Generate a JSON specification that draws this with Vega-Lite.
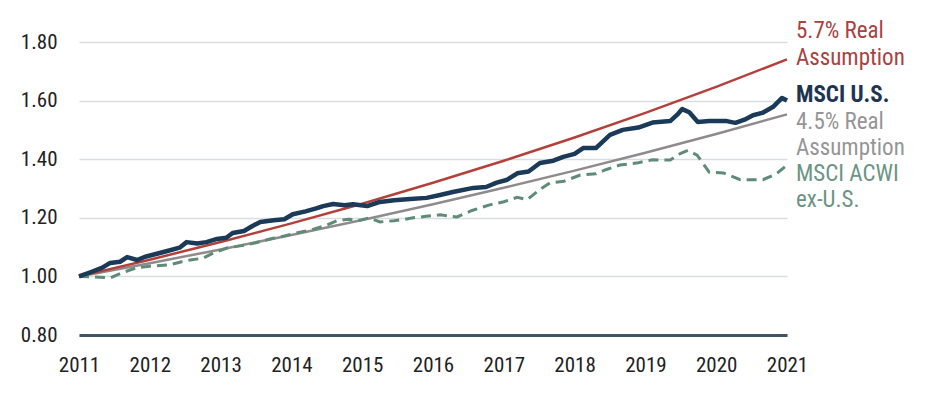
{
  "$schema": "https://vega.github.io/schema/vega-lite/v6.json",
  "width": 708,
  "height": 293,
  "autosize": "none",
  "padding": {"left": 79, "top": 42, "right": 139, "bottom": 63},
  "background": "white",
  "config": {"view": {"stroke": null}},
  "datasets": {
    "lines": [
      {"series": "5.7% Real Assumption", "year": 2011, "value": 1.0},
      {"series": "5.7% Real Assumption", "year": 2012, "value": 1.057},
      {"series": "5.7% Real Assumption", "year": 2013, "value": 1.1172},
      {"series": "5.7% Real Assumption", "year": 2014, "value": 1.1809},
      {"series": "5.7% Real Assumption", "year": 2015, "value": 1.2482},
      {"series": "5.7% Real Assumption", "year": 2016, "value": 1.3194},
      {"series": "5.7% Real Assumption", "year": 2017, "value": 1.3946},
      {"series": "5.7% Real Assumption", "year": 2018, "value": 1.4741},
      {"series": "5.7% Real Assumption", "year": 2019, "value": 1.5581},
      {"series": "5.7% Real Assumption", "year": 2020, "value": 1.6469},
      {"series": "5.7% Real Assumption", "year": 2021, "value": 1.7408},
      {"series": "4.5% Real Assumption", "year": 2011, "value": 1.0},
      {"series": "4.5% Real Assumption", "year": 2012, "value": 1.045},
      {"series": "4.5% Real Assumption", "year": 2013, "value": 1.092},
      {"series": "4.5% Real Assumption", "year": 2014, "value": 1.1412},
      {"series": "4.5% Real Assumption", "year": 2015, "value": 1.1925},
      {"series": "4.5% Real Assumption", "year": 2016, "value": 1.2462},
      {"series": "4.5% Real Assumption", "year": 2017, "value": 1.3023},
      {"series": "4.5% Real Assumption", "year": 2018, "value": 1.3609},
      {"series": "4.5% Real Assumption", "year": 2019, "value": 1.4221},
      {"series": "4.5% Real Assumption", "year": 2020, "value": 1.4861},
      {"series": "4.5% Real Assumption", "year": 2021, "value": 1.553},
      {"series": "MSCI ACWI ex-U.S.", "year": 2011.0, "value": 1.0},
      {"series": "MSCI ACWI ex-U.S.", "year": 2011.2, "value": 0.998},
      {"series": "MSCI ACWI ex-U.S.", "year": 2011.44, "value": 0.995},
      {"series": "MSCI ACWI ex-U.S.", "year": 2011.6, "value": 1.012},
      {"series": "MSCI ACWI ex-U.S.", "year": 2011.82, "value": 1.03},
      {"series": "MSCI ACWI ex-U.S.", "year": 2012.0, "value": 1.035},
      {"series": "MSCI ACWI ex-U.S.", "year": 2012.29, "value": 1.04},
      {"series": "MSCI ACWI ex-U.S.", "year": 2012.45, "value": 1.05},
      {"series": "MSCI ACWI ex-U.S.", "year": 2012.57, "value": 1.056},
      {"series": "MSCI ACWI ex-U.S.", "year": 2012.75, "value": 1.062},
      {"series": "MSCI ACWI ex-U.S.", "year": 2012.9, "value": 1.08},
      {"series": "MSCI ACWI ex-U.S.", "year": 2013.09, "value": 1.097},
      {"series": "MSCI ACWI ex-U.S.", "year": 2013.3, "value": 1.105},
      {"series": "MSCI ACWI ex-U.S.", "year": 2013.5, "value": 1.115},
      {"series": "MSCI ACWI ex-U.S.", "year": 2013.74, "value": 1.13},
      {"series": "MSCI ACWI ex-U.S.", "year": 2013.9, "value": 1.138},
      {"series": "MSCI ACWI ex-U.S.", "year": 2014.1, "value": 1.15},
      {"series": "MSCI ACWI ex-U.S.", "year": 2014.3, "value": 1.16},
      {"series": "MSCI ACWI ex-U.S.", "year": 2014.5, "value": 1.175},
      {"series": "MSCI ACWI ex-U.S.", "year": 2014.64, "value": 1.19},
      {"series": "MSCI ACWI ex-U.S.", "year": 2014.8, "value": 1.195},
      {"series": "MSCI ACWI ex-U.S.", "year": 2014.97, "value": 1.192},
      {"series": "MSCI ACWI ex-U.S.", "year": 2015.1, "value": 1.2},
      {"series": "MSCI ACWI ex-U.S.", "year": 2015.25, "value": 1.186},
      {"series": "MSCI ACWI ex-U.S.", "year": 2015.45, "value": 1.19},
      {"series": "MSCI ACWI ex-U.S.", "year": 2015.6, "value": 1.195},
      {"series": "MSCI ACWI ex-U.S.", "year": 2015.72, "value": 1.2},
      {"series": "MSCI ACWI ex-U.S.", "year": 2015.9, "value": 1.205},
      {"series": "MSCI ACWI ex-U.S.", "year": 2016.1, "value": 1.21},
      {"series": "MSCI ACWI ex-U.S.", "year": 2016.34, "value": 1.203},
      {"series": "MSCI ACWI ex-U.S.", "year": 2016.55, "value": 1.225},
      {"series": "MSCI ACWI ex-U.S.", "year": 2016.8, "value": 1.244},
      {"series": "MSCI ACWI ex-U.S.", "year": 2017.0, "value": 1.255},
      {"series": "MSCI ACWI ex-U.S.", "year": 2017.19, "value": 1.27},
      {"series": "MSCI ACWI ex-U.S.", "year": 2017.33, "value": 1.262},
      {"series": "MSCI ACWI ex-U.S.", "year": 2017.5, "value": 1.295},
      {"series": "MSCI ACWI ex-U.S.", "year": 2017.65, "value": 1.319},
      {"series": "MSCI ACWI ex-U.S.", "year": 2017.85, "value": 1.325},
      {"series": "MSCI ACWI ex-U.S.", "year": 2018.08, "value": 1.346},
      {"series": "MSCI ACWI ex-U.S.", "year": 2018.3, "value": 1.35},
      {"series": "MSCI ACWI ex-U.S.", "year": 2018.45, "value": 1.365},
      {"series": "MSCI ACWI ex-U.S.", "year": 2018.64, "value": 1.38},
      {"series": "MSCI ACWI ex-U.S.", "year": 2018.9, "value": 1.388},
      {"series": "MSCI ACWI ex-U.S.", "year": 2019.1, "value": 1.398},
      {"series": "MSCI ACWI ex-U.S.", "year": 2019.35, "value": 1.397},
      {"series": "MSCI ACWI ex-U.S.", "year": 2019.5, "value": 1.42},
      {"series": "MSCI ACWI ex-U.S.", "year": 2019.6, "value": 1.43},
      {"series": "MSCI ACWI ex-U.S.", "year": 2019.73, "value": 1.414},
      {"series": "MSCI ACWI ex-U.S.", "year": 2019.9, "value": 1.356},
      {"series": "MSCI ACWI ex-U.S.", "year": 2020.1, "value": 1.353},
      {"series": "MSCI ACWI ex-U.S.", "year": 2020.34, "value": 1.33},
      {"series": "MSCI ACWI ex-U.S.", "year": 2020.5, "value": 1.33},
      {"series": "MSCI ACWI ex-U.S.", "year": 2020.66, "value": 1.33},
      {"series": "MSCI ACWI ex-U.S.", "year": 2020.85, "value": 1.35},
      {"series": "MSCI ACWI ex-U.S.", "year": 2021.0, "value": 1.38},
      {"series": "MSCI U.S.", "year": 2011.0, "value": 1.0},
      {"series": "MSCI U.S.", "year": 2011.17, "value": 1.015},
      {"series": "MSCI U.S.", "year": 2011.33, "value": 1.03},
      {"series": "MSCI U.S.", "year": 2011.44, "value": 1.046},
      {"series": "MSCI U.S.", "year": 2011.58, "value": 1.05},
      {"series": "MSCI U.S.", "year": 2011.68, "value": 1.066},
      {"series": "MSCI U.S.", "year": 2011.82, "value": 1.056},
      {"series": "MSCI U.S.", "year": 2011.95, "value": 1.068},
      {"series": "MSCI U.S.", "year": 2012.14, "value": 1.08},
      {"series": "MSCI U.S.", "year": 2012.3, "value": 1.09},
      {"series": "MSCI U.S.", "year": 2012.42, "value": 1.098},
      {"series": "MSCI U.S.", "year": 2012.52, "value": 1.117},
      {"series": "MSCI U.S.", "year": 2012.67, "value": 1.112},
      {"series": "MSCI U.S.", "year": 2012.8, "value": 1.117},
      {"series": "MSCI U.S.", "year": 2012.95, "value": 1.128},
      {"series": "MSCI U.S.", "year": 2013.08, "value": 1.132},
      {"series": "MSCI U.S.", "year": 2013.17, "value": 1.148},
      {"series": "MSCI U.S.", "year": 2013.33, "value": 1.155},
      {"series": "MSCI U.S.", "year": 2013.45, "value": 1.172},
      {"series": "MSCI U.S.", "year": 2013.56, "value": 1.186},
      {"series": "MSCI U.S.", "year": 2013.75, "value": 1.192},
      {"series": "MSCI U.S.", "year": 2013.9, "value": 1.195},
      {"series": "MSCI U.S.", "year": 2014.02, "value": 1.212},
      {"series": "MSCI U.S.", "year": 2014.2, "value": 1.222},
      {"series": "MSCI U.S.", "year": 2014.35, "value": 1.232},
      {"series": "MSCI U.S.", "year": 2014.45, "value": 1.24},
      {"series": "MSCI U.S.", "year": 2014.59, "value": 1.247},
      {"series": "MSCI U.S.", "year": 2014.75, "value": 1.243},
      {"series": "MSCI U.S.", "year": 2014.87, "value": 1.246},
      {"series": "MSCI U.S.", "year": 2015.07, "value": 1.24},
      {"series": "MSCI U.S.", "year": 2015.25, "value": 1.254},
      {"series": "MSCI U.S.", "year": 2015.45, "value": 1.26},
      {"series": "MSCI U.S.", "year": 2015.68, "value": 1.264},
      {"series": "MSCI U.S.", "year": 2015.91, "value": 1.268},
      {"series": "MSCI U.S.", "year": 2016.1, "value": 1.278},
      {"series": "MSCI U.S.", "year": 2016.28, "value": 1.288},
      {"series": "MSCI U.S.", "year": 2016.57, "value": 1.302},
      {"series": "MSCI U.S.", "year": 2016.75, "value": 1.305},
      {"series": "MSCI U.S.", "year": 2016.9, "value": 1.32},
      {"series": "MSCI U.S.", "year": 2017.05, "value": 1.33},
      {"series": "MSCI U.S.", "year": 2017.19, "value": 1.352},
      {"series": "MSCI U.S.", "year": 2017.35, "value": 1.358},
      {"series": "MSCI U.S.", "year": 2017.51, "value": 1.387},
      {"series": "MSCI U.S.", "year": 2017.7, "value": 1.395},
      {"series": "MSCI U.S.", "year": 2017.84, "value": 1.408},
      {"series": "MSCI U.S.", "year": 2018.0, "value": 1.418},
      {"series": "MSCI U.S.", "year": 2018.12, "value": 1.438},
      {"series": "MSCI U.S.", "year": 2018.3, "value": 1.438},
      {"series": "MSCI U.S.", "year": 2018.5, "value": 1.483},
      {"series": "MSCI U.S.", "year": 2018.68, "value": 1.5},
      {"series": "MSCI U.S.", "year": 2018.9, "value": 1.508},
      {"series": "MSCI U.S.", "year": 2019.1, "value": 1.525},
      {"series": "MSCI U.S.", "year": 2019.35, "value": 1.53},
      {"series": "MSCI U.S.", "year": 2019.45, "value": 1.552},
      {"series": "MSCI U.S.", "year": 2019.52, "value": 1.571},
      {"series": "MSCI U.S.", "year": 2019.62, "value": 1.56},
      {"series": "MSCI U.S.", "year": 2019.74, "value": 1.527},
      {"series": "MSCI U.S.", "year": 2019.9, "value": 1.53},
      {"series": "MSCI U.S.", "year": 2020.15, "value": 1.53},
      {"series": "MSCI U.S.", "year": 2020.27, "value": 1.524},
      {"series": "MSCI U.S.", "year": 2020.4, "value": 1.535},
      {"series": "MSCI U.S.", "year": 2020.52, "value": 1.55},
      {"series": "MSCI U.S.", "year": 2020.65, "value": 1.558},
      {"series": "MSCI U.S.", "year": 2020.8, "value": 1.578},
      {"series": "MSCI U.S.", "year": 2020.93, "value": 1.609},
      {"series": "MSCI U.S.", "year": 2021.0, "value": 1.6}
    ]
  },
  "data": {"name": "lines"},
  "encoding": {
    "x": {
      "field": "year", "type": "quantitative",
      "scale": {"domain": [2011, 2021], "nice": false, "zero": false},
      "axis": {
        "title": null, "values": [2011, 2012, 2013, 2014, 2015, 2016, 2017, 2018, 2019, 2020, 2021],
        "format": "d", "grid": false, "ticks": false,
        "domainColor": "#3f5566", "domainWidth": 3,
        "labelFont": "Roboto Condensed, Liberation Sans Narrow, Roboto", "labelFontSize": 21, "labelColor": "#222222",
        "labelPadding": 19, "labelFlush": false
      }
    },
    "y": {
      "field": "value", "type": "quantitative",
      "scale": {"domain": [0.8, 1.8], "nice": false, "zero": false},
      "axis": {
        "title": null, "values": [0.8, 1.0, 1.2, 1.4, 1.6, 1.8], "format": ".2f",
        "domain": false, "ticks": false, "grid": true, "gridColor": "#d6dee4", "gridWidth": 1.5,
        "labelFont": "Roboto Condensed, Liberation Sans Narrow, Roboto", "labelFontSize": 21, "labelColor": "#222222",
        "labelPadding": 22
      }
    }
  },
  "layer": [
    {
      "transform": [{"filter": "datum.series == '4.5% Real Assumption'"}],
      "mark": {"type": "line", "color": "#8f8b8c", "strokeWidth": 2.5}
    },
    {
      "transform": [{"filter": "datum.series == '5.7% Real Assumption'"}],
      "mark": {"type": "line", "color": "#b3403a", "strokeWidth": 2.5}
    },
    {
      "transform": [{"filter": "datum.series == 'MSCI ACWI ex-U.S.'"}],
      "mark": {"type": "line", "color": "#5e8c76", "strokeWidth": 3, "strokeDash": [10, 6]}
    },
    {
      "transform": [{"filter": "datum.series == 'MSCI U.S.'"}],
      "mark": {"type": "line", "color": "#1b3a57", "strokeWidth": 4.5, "strokeJoin": "round"}
    },
    {
      "transform": [{"filter": "datum.series == '5.7% Real Assumption' && datum.year == 2021"}],
      "mark": {"type": "text", "align": "left", "baseline": "alphabetic", "dx": 9, "dy": -21.5, "lineHeight": 27, "font": "Roboto Condensed, Liberation Sans Narrow, Roboto", "fontSize": 23, "color": "#a8423f"},
      "encoding": {"text": {"value": ["5.7% Real", "Assumption"]}}
    },
    {
      "transform": [{"filter": "datum.series == 'MSCI U.S.' && datum.year == 2021"}],
      "mark": {"type": "text", "align": "left", "baseline": "alphabetic", "dx": 9, "dy": 1, "font": "Roboto Condensed, Liberation Sans Narrow, Roboto", "fontSize": 23, "fontWeight": "bold", "color": "#1d3550"},
      "encoding": {"text": {"value": "MSCI U.S."}}
    },
    {
      "transform": [{"filter": "datum.series == '4.5% Real Assumption' && datum.year == 2021"}],
      "mark": {"type": "text", "align": "left", "baseline": "alphabetic", "dx": 9, "dy": 14.3, "lineHeight": 26, "font": "Roboto Condensed, Liberation Sans Narrow, Roboto", "fontSize": 23, "color": "#959595"},
      "encoding": {"text": {"value": ["4.5% Real", "Assumption"]}}
    },
    {
      "transform": [{"filter": "datum.series == 'MSCI ACWI ex-U.S.' && datum.year == 2021"}],
      "mark": {"type": "text", "align": "left", "baseline": "alphabetic", "dx": 9, "dy": 15.5, "lineHeight": 26, "font": "Roboto Condensed, Liberation Sans Narrow, Roboto", "fontSize": 23, "color": "#6b9484"},
      "encoding": {"text": {"value": ["MSCI ACWI", "ex-U.S."]}}
    }
  ]
}
